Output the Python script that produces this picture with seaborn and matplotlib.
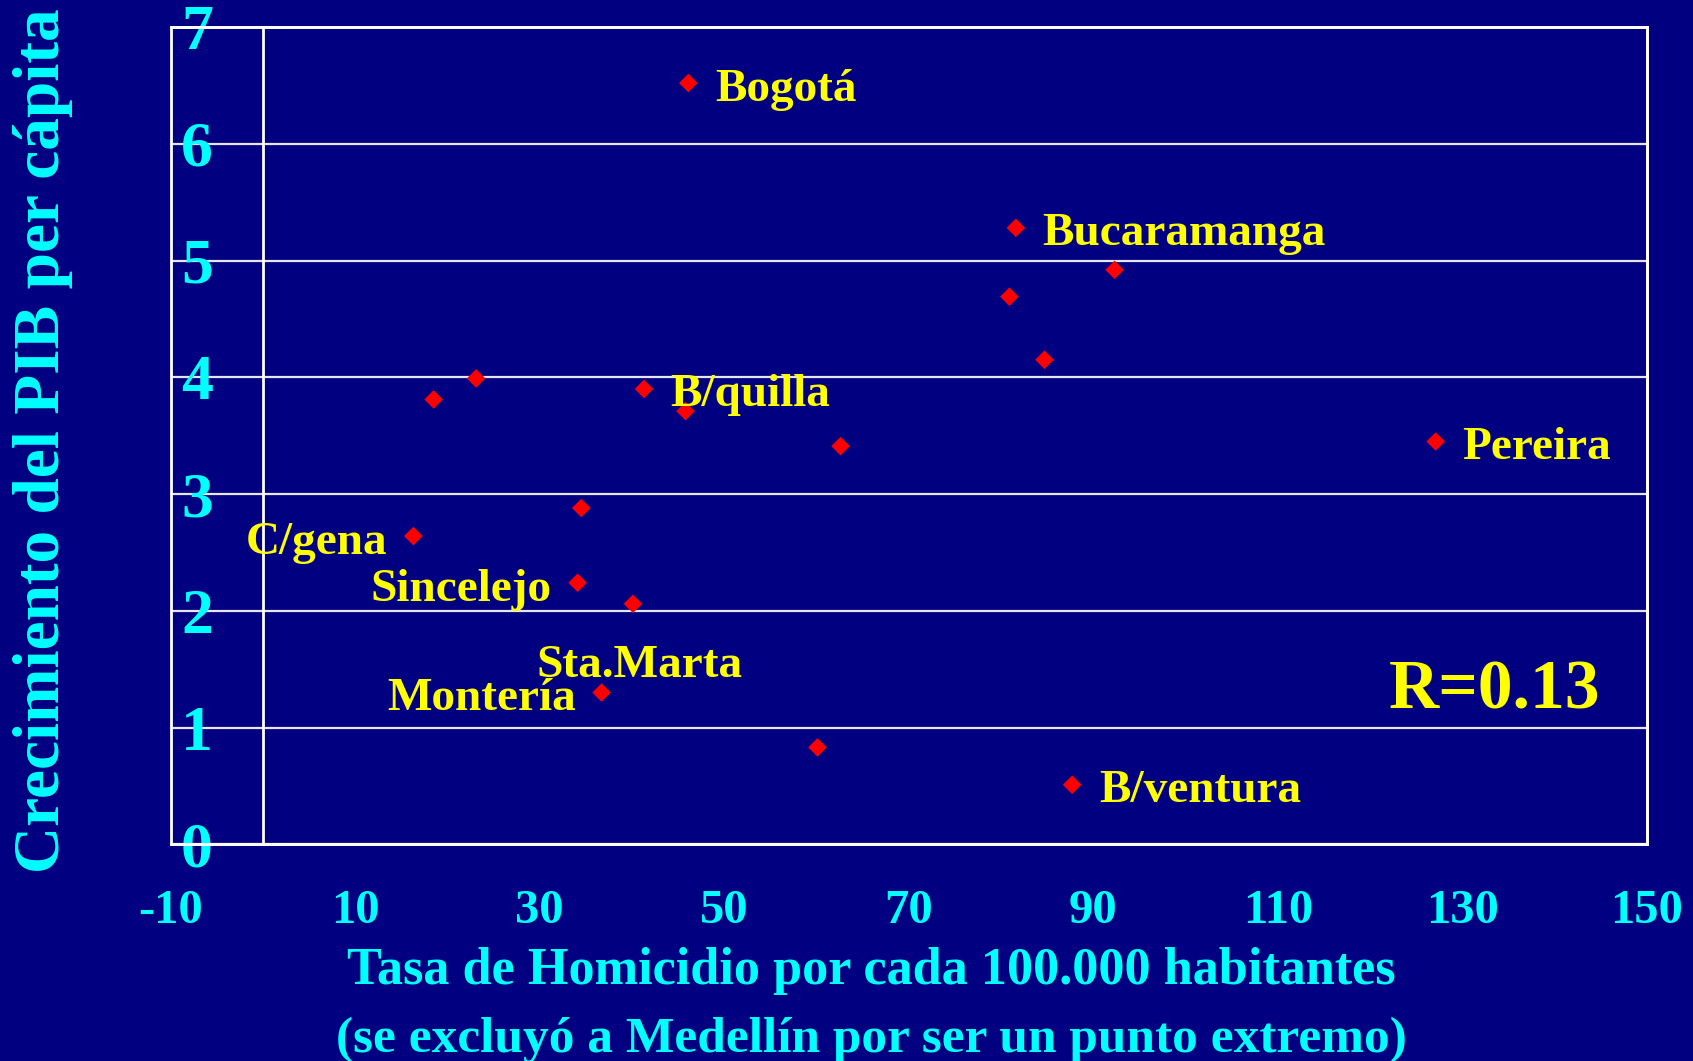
import matplotlib
matplotlib.use("Agg")
import matplotlib.pyplot as plt
from matplotlib.path import Path
from matplotlib.patches import Rectangle
import seaborn as sns
import pandas as pd

# ---- data ----
homicidios = [46.1, 81.6, 92.3, 80.9, 84.7, 127.1, 23.1, 18.5, 41.3, 45.8,
              62.6, 34.5, 16.3, 34.1, 40.1, 36.7, 60.1, 87.7]
crecimiento = [6.52, 5.28, 4.92, 4.69, 4.15, 3.45, 3.99, 3.81, 3.90, 3.71,
               3.41, 2.88, 2.64, 2.24, 2.06, 1.30, 0.83, 0.51]
ciudades = ["Bogotá", "Bucaramanga", "", "", "", "Pereira", "", "", "B/quilla", "",
            "", "", "C/gena", "Sincelejo", "", "Montería", "", "B/ventura"]
extra_label = "Sta.Marta"          # label sharing the Montería point
extra_label_point = 15
x_ticks = [-10, 10, 30, 50, 70, 90, 110, 130, 150]
y_ticks = [0, 1, 2, 3, 4, 5, 6, 7]
r_text = "R=0.13"
x_title_1 = "Tasa de Homicidio por cada 100.000 habitantes"
x_title_2 = "(se excluyó a Medellín por ser un punto extremo)"
y_title = "Crecimiento del PIB per cápita"

df = pd.DataFrame({"homicidios": homicidios, "crecimiento": crecimiento, "ciudad": ciudades})

NAVY = "#000080"
CYAN = "#00FFFF"
YELLOW = "#FFFF00"

sns.set_theme(style="white")
plt.rcParams["font.family"] = ["Liberation Serif", "DejaVu Serif"]
plt.rcParams["font.weight"] = "bold"

fig = plt.figure(figsize=(16.93, 10.61), dpi=100, facecolor=NAVY)
ax = fig.add_axes([170.7 / 1693, 1 - 844.3 / 1061, (1647 - 170.7) / 1693, (844.3 - 27) / 1061])
ax.set_facecolor(NAVY)

diamond = Path([(0, -1), (1, 0), (0, 1), (-1, 0), (0, -1)],
               [Path.MOVETO, Path.LINETO, Path.LINETO, Path.LINETO, Path.CLOSEPOLY])
sns.scatterplot(data=df, x="homicidios", y="crecimiento", marker=diamond, s=180,
                color="#FF0000", edgecolor="none", linewidth=0, ax=ax, zorder=5, legend=False)

ax.set_xlim(x_ticks[0], x_ticks[-1])
ax.set_ylim(y_ticks[0], y_ticks[-1])

# spines: left spine placed at x=0 (value axis), box drawn around the plot area
for s in ["top", "right", "bottom"]:
    ax.spines[s].set_color("white")
    ax.spines[s].set_linewidth(2)
ax.spines["left"].set_position(("data", 0))
ax.spines["left"].set_color("white")
ax.spines["left"].set_linewidth(2)
ax.add_patch(Rectangle((0, 0), 1, 1, transform=ax.transAxes, fill=False,
                       ec="white", lw=2, zorder=4, clip_on=False))

ax.set_xticks(x_ticks)
ax.set_xticklabels([str(t) for t in x_ticks])
ax.set_yticks(y_ticks)
ax.set_yticklabels([str(t) for t in y_ticks])
ax.tick_params(axis="x", colors="white", direction="out", length=8.6, width=1.5,
               pad=23.5, labelcolor=CYAN, labelsize=35)
ax.tick_params(axis="y", colors="white", direction="out", length=15, width=2.5,
               pad=44, labelcolor=CYAN, labelsize=46)
for lab in ax.get_yticklabels():
    lab.set_horizontalalignment("left")
    lab.set_fontweight("bold")
for lab in ax.get_xticklabels():
    lab.set_fontweight("bold")

ax.yaxis.grid(True, color="#E6E6F0", linewidth=1.6)
ax.xaxis.grid(False)
ax.set_axisbelow(True)
ax.set_xlabel("")
ax.set_ylabel("")

# point labels
label_style = dict(color=YELLOW, fontsize=34, fontweight="bold", textcoords="offset points",
                   va="baseline", zorder=6, annotation_clip=False)
right_side = {"C/gena", "Sincelejo", "Montería"}
for i, row in df.iterrows():
    if not row["ciudad"]:
        continue
    if row["ciudad"] in right_side:
        ax.annotate(row["ciudad"], (row["homicidios"], row["crecimiento"]),
                    xytext=(-18.6, -12.8), ha="right", **label_style)
    else:
        ax.annotate(row["ciudad"], (row["homicidios"], row["crecimiento"]),
                    xytext=(19.2, -12.6), ha="left", **label_style)
ax.annotate(extra_label, (homicidios[extra_label_point], crecimiento[extra_label_point]),
            xytext=(-46.6, 11.5), ha="left", **label_style)

ax.text(0.825, 0.166, r_text, transform=ax.transAxes, color=YELLOW, fontsize=50,
        fontweight="bold", ha="left", va="baseline", zorder=6)

# axis titles
fig.text(871 / 1693, 1 - 984 / 1061, x_title_1, color=CYAN, fontsize=37.6, fontweight="bold",
         ha="center", va="baseline")
fig.text(871 / 1693, 1 - 1052 / 1061, x_title_2, color=CYAN, fontsize=37, fontweight="bold",
         ha="center", va="baseline")
fig.text(43 / 1693, 1 - 441 / 1061, y_title, color=CYAN, fontsize=47, fontweight="bold",
         ha="center", va="center", rotation=90)

fig.savefig("out.png", dpi=100, facecolor=NAVY)
